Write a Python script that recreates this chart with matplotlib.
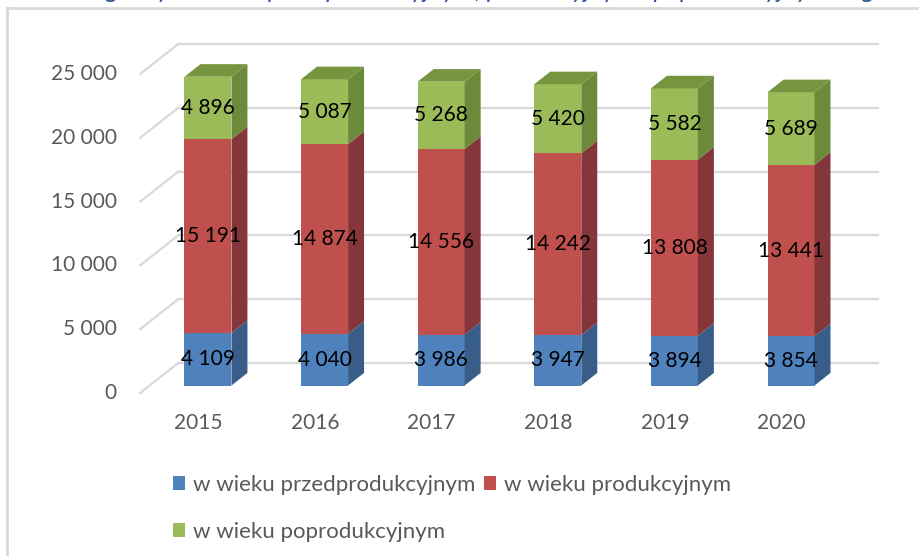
import numpy as np
import matplotlib
matplotlib.use("Agg")
import matplotlib.pyplot as plt
from matplotlib.patches import Polygon, Rectangle
from matplotlib.lines import Line2D

plt.rcParams['font.family'] = ['Lato', 'DejaVu Sans']

# dane
lata = ['2015', '2016', '2017', '2018', '2019', '2020']
przedprod = [4109, 4040, 3986, 3947, 3894, 3854]
produkcyjny = [15191, 14874, 14556, 14242, 13808, 13441]
poprod = [4896, 5087, 5268, 5420, 5582, 5689]
serie = ['w wieku przedprodukcyjnym', 'w wieku produkcyjnym', 'w wieku poprodukcyjnym']
ticki = [0, 5000, 10000, 15000, 20000, 25000]

kolory = ['#4f81bd', '#c0504d', '#9bbb59']
boki = ['#395d89', '#85363a', '#6b8a3a']
gora = ['#4a70a0', '#a34441', '#77953f']


def fmt(v):
    return f"{v:,}".replace(",", " ")


fig = plt.figure(figsize=(9.19, 5.56), dpi=100)
ax = fig.add_axes([0, 0, 1, 1])
ax.set_xlim(-1.702, 6.179)
ax.set_ylim(-12774, 30799)
ax.axis('off')

# przesunięcie głębi (3D) w jednostkach danych
DX, DY = 0.326, 2351
d0, d1 = 0.25, 0.67
W = 0.403
n = len(lata)

# siatka: ściana boczna + tylna
for t in ticki:
    ax.plot([-0.5, -0.5 + DX], [t, t + DY], color='#d9d9d9', lw=1.6, zorder=1)
    ax.plot([-0.5 + DX, n - 0.5 + DX], [t + DY, t + DY], color='#d9d9d9', lw=1.6, zorder=1)
    ax.text(-0.70, t, fmt(t), ha='right', va='center', fontsize=15, color='#595959')

dane = [przedprod, produkcyjny, poprod]
ddx, ddy = (d1 - d0) * DX, (d1 - d0) * DY
handles = []
for i in range(n):
    xc = i + d0 * DX
    xl, xr = xc - W / 2, xc + W / 2
    dol = d0 * DY
    for k, s in enumerate(dane):
        v = s[i]
        y0, y1 = dol, dol + v
        p = ax.add_patch(Rectangle((xl, y0), W, v, facecolor=kolory[k], edgecolor='none', zorder=3))
        if i == 0:
            handles.append(p)
        ax.add_patch(Polygon([(xr, y0), (xr + ddx, y0 + ddy), (xr + ddx, y1 + ddy), (xr, y1)],
                             closed=True, facecolor=boki[k], edgecolor='none', zorder=3))
        ax.text(xc, (y0 + y1) / 2, fmt(v), ha='center', va='center', fontsize=15, color='black', zorder=5)
        dol = y1
    ax.add_patch(Polygon([(xl, dol), (xr, dol), (xr + ddx, dol + ddy), (xl + ddx, dol + ddy)],
                         closed=True, facecolor=gora[2], edgecolor='none', zorder=3))
    ax.text(i, -DY, lata[i], ha='center', va='center', fontsize=15, color='#595959')

# legenda
leg = fig.legend([handles[0], handles[2], handles[1]], [serie[0], serie[2], serie[1]],
                 ncol=2, loc='upper left', bbox_to_anchor=(173 / 919, 1 - 475 / 556),
                 frameon=False, fontsize=16, labelcolor='#595959',
                 borderpad=0, borderaxespad=0,
                 handlelength=0.55, handleheight=0.55, handletextpad=0.35,
                 columnspacing=0.4, labelspacing=1.2)

# ramka wykresu
fig.add_artist(Line2D([7 / 919, 7 / 919], [0, 1 - 8 / 556], color='#d9d9d9', lw=2))
fig.add_artist(Line2D([7 / 919, 1], [1 - 8 / 556, 1 - 8 / 556], color='#d9d9d9', lw=2))

# ucięty tytuł nad wykresem (widoczne tylko dolne fragmenty liter)
ty = 1 + 2.5 / 556
glowny = 'przedprodukcyjnym, produkcyjnym i poprodukcyjnym'
t1 = fig.text(268 / 919, ty, glowny, ha='left', va='baseline',
              fontsize=15, style='italic', color='#2f5597')
r = fig.canvas.get_renderer()
w = t1.get_window_extent(r).width
fs = 15 * 562 / w
t1.set_fontsize(fs)
fig.text(262 / 919, ty, 'Wykres 3. Ludność gminy w wieku', ha='right', va='baseline',
         fontsize=fs, style='italic', color='#2f5597')
fig.text(832 / 919, ty, ' w gminie w latach 2015–2020', ha='left', va='baseline',
         fontsize=fs, style='italic', color='#2f5597')

fig.savefig('out.png', dpi=100)
